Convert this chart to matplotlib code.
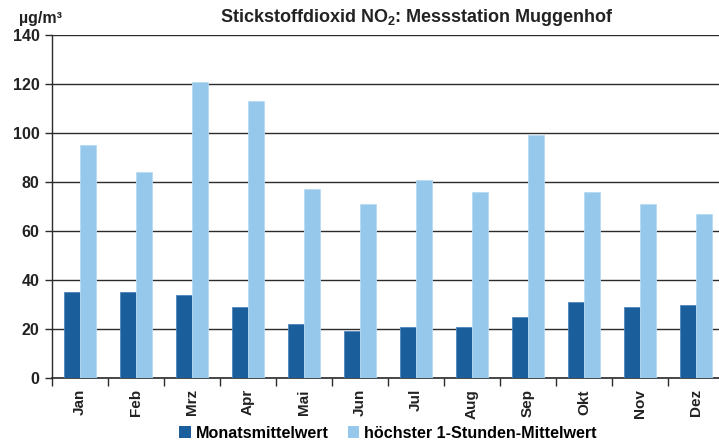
import matplotlib
matplotlib.use("Agg")
import matplotlib.pyplot as plt
import numpy as np
from matplotlib.patches import Patch

months = ["Jan", "Feb", "Mrz", "Apr", "Mai", "Jun", "Jul", "Aug", "Sep", "Okt", "Nov", "Dez"]
monatsmittel = [35, 35, 34, 29, 22, 19, 21, 21, 25, 31, 29, 30]
hoechster_1h = [95, 84, 121, 113, 77, 71, 81, 76, 99, 76, 71, 67]
yticks = [0, 20, 40, 60, 80, 100, 120, 140]

FONT = "Liberation Sans"
plt.rcParams["font.family"] = [FONT, "DejaVu Sans"]
plt.rcParams["font.weight"] = "bold"
plt.rcParams["mathtext.fontset"] = "custom"
plt.rcParams["mathtext.rm"] = FONT + ":bold"
plt.rcParams["mathtext.default"] = "regular"

dark = "#1a5e9c"
light = "#95c8ea"
gridc = "#2b2b2b"
txt = "#222222"

W, H = 719, 444
fig = plt.figure(figsize=(W / 100, H / 100), dpi=100)
ax = fig.add_axes([52 / W, (H - 378) / H, 672 / W, 343 / H])

x = np.arange(len(months))
bw = 16 / 56
ax.bar(x - bw / 2, monatsmittel, width=bw, color=dark, edgecolor="#4f86ba", linewidth=0.6, zorder=3)
ax.bar(x + bw / 2, hoechster_1h, width=bw, color=light, edgecolor="#b7dbf3", linewidth=0.6, zorder=3)

ax.set_xlim(-0.5, len(months) - 0.5)
ax.set_ylim(0, 140)
ax.set_yticks(yticks)
ax.set_yticklabels([str(v) for v in yticks], fontsize=11.5, fontweight="bold", color=txt)
ax.yaxis.grid(True, color=gridc, linewidth=1.0, zorder=0)
ax.set_axisbelow(True)

ax.set_xticks(x)
ax.set_xticklabels(months, rotation=90, fontsize=11, fontweight="bold", color=txt)
ax.tick_params(axis="x", which="major", length=0, pad=8)
ax.set_xticks(np.arange(-0.5, len(months), 1.0), minor=True)
ax.tick_params(axis="x", which="minor", length=6, width=1.0, color=gridc, direction="out")
ax.tick_params(axis="y", length=5, width=1.0, color=gridc, pad=4)

for s in ["top", "right"]:
    ax.spines[s].set_visible(False)
ax.spines["left"].set_color(gridc)
ax.spines["bottom"].set_color(gridc)
ax.spines["left"].set_linewidth(1.0)
ax.spines["bottom"].set_linewidth(1.2)

fig.text(417 / W, 1 - 18 / H, r"Stickstoffdioxid NO$_2$: Messstation Muggenhof",
         ha="center", va="center", fontsize=13, fontweight="bold", color=txt)
fig.text(40 / W, 1 - 19 / H, "µg/m³", ha="center", va="center", fontsize=11.5,
         fontweight="bold", color=txt)

handles = [Patch(facecolor=dark, edgecolor="none"), Patch(facecolor=light, edgecolor="none")]
fig.legend(handles, ["Monatsmittelwert", "höchster 1-Stunden-Mittelwert"],
           loc="center", bbox_to_anchor=(388 / W, 1 - 433 / H), ncol=2, frameon=False,
           prop={"family": FONT, "weight": "bold", "size": 11.6},
           handlelength=0.7, handleheight=0.7, handletextpad=0.3, columnspacing=1.2,
           borderpad=0)

fig.savefig("out.png", dpi=100)
